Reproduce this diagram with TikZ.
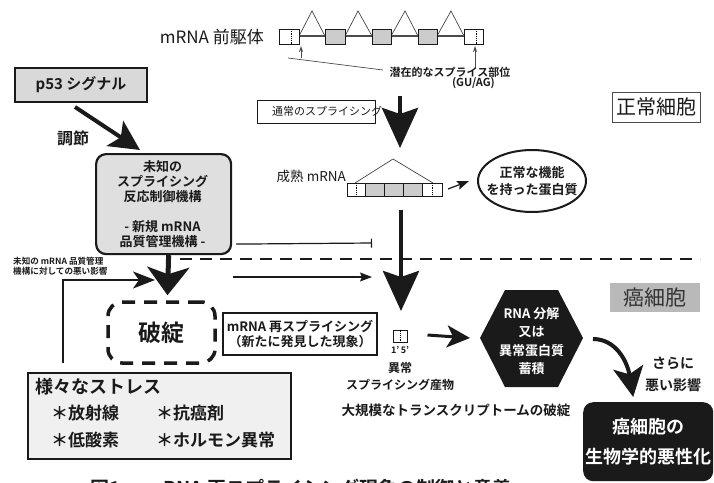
\documentclass[tikz,border=0pt]{standalone}
\usepackage{fontspec}
\setmainfont{Noto Sans CJK JP}[BoldFont={Noto Sans CJK JP Bold}]
\usetikzlibrary{arrows.meta,shapes.geometric}
\newcommand{\fsz}[2]{\fontsize{#1pt}{#2pt}\selectfont}
\definecolor{ink}{HTML}{1A1A1A}
\tikzset{
  bigarrow/.style={draw=ink, line width=4.5pt, -{Stealth[length=40pt,width=36pt,inset=6pt]}},
  medarrow/.style={draw=ink, line width=4pt, -{Stealth[length=30pt,width=30pt,inset=7pt]}},
  thinarrow/.style={draw=ink, line width=1.2pt, -{Stealth[length=12pt,width=9pt,inset=2pt]}},
  tinyarrow/.style={draw=gray!60!black, line width=0.8pt, -{Stealth[length=6pt,width=4pt]}},
  whitebox/.style={draw=ink, line width=1pt, fill=white},
  greybox/.style={draw=ink, line width=1pt, fill=gray!40},
  intron/.style={draw=gray!55!black, line width=0.7pt},
  lbl/.style={inner sep=0pt, text=ink},
}
\begin{document}
\begin{tikzpicture}[x=1pt,y=-1pt, font=\bfseries]
\useasboundingbox (0,0) rectangle (714,482);
\clip (0,0) rectangle (714,482);
\fill[white] (0,0) rectangle (714,482);

% ---------- pre-mRNA ----------
\node[lbl, anchor=east, font=\mdseries\fsz{17}{19}] (pre) at (264,37) {mRNA 前駆体};
\draw[draw=gray!60!black, line width=1.5pt] (299,36) -- (464,36);
\foreach \a/\b/\c in {299/312/325, 345/358/372, 391/405/418, 437/451/464}
  \draw[intron] (\a,36) -- (\b,11) -- (\c,36);
\draw[whitebox] (279,29) rectangle (299,44);
\draw[densely dotted, line width=0.8pt] (291,29) -- (291,44);
\draw[greybox] (325,29) rectangle (345,44);
\draw[greybox] (372,29) rectangle (391,44);
\draw[greybox] (418,29) rectangle (437,44);
\draw[whitebox] (464,29) rectangle (483,44);
\draw[densely dotted, line width=0.8pt] (476,29) -- (476,44);
\coordinate (siteL) at (301,46);
\coordinate (siteR) at (475,46);
\draw[tinyarrow] (301,58) -- (siteL);
\draw[tinyarrow] (475,68) -- (siteR);
\draw[draw=gray!60!black, line width=0.7pt] (288,58) -- (383,70);
\node[lbl, font=\bfseries\fsz{11}{13}] (site) at (450,72) {潜在的なスプライス部位};
\node[lbl, anchor=east, font=\bfseries\fsz{11}{13}] (guag) at (495,83) {(GU/AG)};

% ---------- normal splicing ----------
\draw[draw=ink, line width=0.8pt] (257,100) rectangle (375,123);
\node[lbl, anchor=west, font=\mdseries\fsz{11}{13}] (normsp) at (272,111.5) {通常のスプライシング};
\coordinate (arr1s) at (400,96);
\coordinate (arr1e) at (400,148);
\draw[bigarrow] (arr1s) -- (arr1e);

% ---------- mature mRNA ----------
\node[lbl, anchor=east, font=\mdseries\fsz{13.5}{15}] (mat) at (346,176) {成熟 mRNA};
\draw[intron] (355,183) -- (393,159) -- (433,183);
\draw[whitebox] (347,183) rectangle (365,196);
\draw[densely dotted, line width=0.8pt] (356,183) -- (356,196);
\draw[greybox] (365,183) rectangle (384,196);
\draw[greybox] (384,183) rectangle (403,196);
\draw[greybox] (403,183) rectangle (422,196);
\draw[whitebox] (422,183) rectangle (442,196);
\draw[densely dotted, line width=0.8pt] (432,183) -- (432,196);
\coordinate (stripE) at (448,189);
\node[draw=ink, ellipse, line width=2pt, minimum width=108pt, minimum height=62pt] (func) at (532,181) {};
\node[lbl, align=center, font=\bfseries\fsz{13}{17}] (functxt) at (func) {正常な機能\\を持った蛋白質};
\draw[thinarrow] (stripE) -- ([xshift=-8pt]func.west);

% ---------- cell labels ----------
\node[draw=gray!60!black, line width=0.8pt, minimum width=88pt, minimum height=30pt, inner sep=0pt, font=\mdseries\fsz{20}{22}, text=ink] (normal) at (656,107) {正常細胞};
\node[fill=gray!55, minimum width=90pt, minimum height=29pt, inner sep=0pt, font=\mdseries\fsz{21}{23}, text=black!80] (cancer) at (655,297.5) {癌細胞};

% ---------- dashed separator ----------
\coordinate (sepL) at (180,259);
\coordinate (sepR) at (700,259);
\draw[draw=ink, line width=2pt, dash pattern=on 12pt off 8pt] (sepL) -- (sepR);

% ---------- second big arrow ----------
\coordinate (arr2s) at (401,210);
\coordinate (arr2e) at (401,311);
\draw[bigarrow] (arr2s) -- (arr2e);

% ---------- p53 ----------
\node[draw=ink, line width=2pt, fill=gray!30, minimum width=132pt, minimum height=34pt, inner sep=0pt, font=\bfseries\fsz{15}{17}, text=ink] (p53) at (81,85) {p53 シグナル};
\node[lbl, font=\bfseries\fsz{16}{18}] (reg) at (73,138) {調節};

% ---------- control box ----------
\node[draw=ink, line width=2.2pt, rounded corners=10pt, fill=gray!25, minimum width=135pt, minimum height=100pt, anchor=north west] (ctrl) at (95,153) {};
\node[lbl, align=center, font=\bfseries\fsz{13}{15}] (ctrltxt) at (162.5,204) {未知の\\スプライシング\\反応制御機構\\[15pt]- 新規 mRNA\\品質管理機構 -};
\draw[medarrow] ([xshift=-6pt,yshift=-4pt]p53.south) -- ([xshift=45pt,yshift=3pt]ctrl.north west);

\coordinate (teeEnd) at (372,243);
\draw[draw=ink, line width=1.2pt, -{Bar[width=9pt]}] ([xshift=4pt,yshift=-40pt]ctrl.east) -- (teeEnd);
\coordinate (hArrS) at (233,277);
\coordinate (hArrE) at (372,277);
\draw[thinarrow] (hArrS) -- (hArrE);

\node[lbl, anchor=north west, align=left, font=\bfseries\fsz{8.6}{10}] (qctxt) at (13,257) {未知の mRNA 品質管理\\機構に対しての悪い影響};

% ---------- hatan ----------
\node[draw=ink, line width=3.5pt, dash pattern=on 13pt off 9pt, rounded corners=14pt, minimum width=107pt, minimum height=61pt, font=\bfseries\fsz{23}{25}, text=ink] (hatan) at (161.5,332.5) {破綻};
\draw[draw=ink, line width=5pt, -{Stealth[length=28pt,width=42pt,inset=7pt]}] ([xshift=5pt]ctrl.south) -- ([xshift=6pt,yshift=5pt]hatan.north);

% ---------- stress ----------
\node[draw=ink, line width=1.5pt, fill=gray!12, minimum width=263pt, minimum height=86pt, anchor=north west] (stress) at (27,372) {};
\node[lbl, anchor=west, font=\bfseries\fsz{18}{20}] (st0) at (35,387) {様々なストレス};
\node[lbl, anchor=west, font=\bfseries\fsz{17}{19}] (st1) at (51,413) {＊放射線};
\node[lbl, anchor=west, font=\bfseries\fsz{17}{19}] (st2) at (156,413) {＊抗癌剤};
\node[lbl, anchor=west, font=\bfseries\fsz{17}{19}] (st3) at (51,440) {＊低酸素};
\node[lbl, anchor=west, font=\bfseries\fsz{17}{19}] (st4) at (156,440) {＊ホルモン異常};
\coordinate (stEnd) at (155,280);
\draw[draw=ink, line width=2pt, -{Stealth[length=22pt,width=17pt,inset=6pt]}] ([xshift=36pt,yshift=9pt]stress.north west) |- (stEnd);

% ---------- re-splicing ----------
\node[draw=ink, line width=1.8pt, minimum width=154pt, minimum height=42pt, inner sep=0pt, align=center, font=\bfseries\fsz{13}{15}, text=ink] (resp) at (300,334) {mRNA 再スプライシング\\（新たに発見した現象）};

% ---------- aberrant product ----------
\node[draw=ink, line width=1pt, minimum width=14pt, minimum height=12pt, inner sep=0pt] (prod) at (400,336) {};
\draw[densely dotted, line width=0.8pt] (prod.north) -- (prod.south);
\node[lbl, font=\bfseries\fsz{9}{10}] (prod15) at (400,350) {1'\,5'};
\node[lbl, align=center, font=\bfseries\fsz{12}{17}] (prodtxt) at (400,376.5) {異常\\スプライシング産物};
\node[lbl, font=\bfseries\fsz{13.5}{15}] (trans) at (456,410) {大規模なトランスクリプトームの破綻};

% ---------- hexagon ----------
\coordinate (hexL) at (480,338);
\coordinate (hexR) at (583,338);
\fill[ink] (hexL) -- (505,290) -- (558,290) -- (hexR) -- (558,387) -- (505,387) -- cycle;
\node[lbl, align=center, text=white, font=\bfseries\fsz{13}{18.3}] (hex) at (531.5,341) {RNA 分解\\又は\\異常蛋白質\\蓄積};
\draw[draw=ink, line width=3pt, -{Stealth[length=23pt,width=22pt,inset=6pt]}] ([xshift=20pt,yshift=1pt]prod.east) -- ([xshift=-10pt]hexL);

% ---------- malignancy ----------
\node[fill=ink, rounded corners=10pt, minimum width=130pt, minimum height=79pt, anchor=north west] (bio) at (583,402) {};
\node[lbl, align=center, text=white, font=\bfseries\fsz{18}{30}] (biotxt) at (bio) {癌細胞の\\生物学的悪性化};
\coordinate (curveS) at (593,339);
\draw[medarrow] (curveS) .. controls (615,339) and (627,360) .. ([xshift=-15pt,yshift=5pt]bio.north);
\node[lbl, align=center, font=\bfseries\fsz{14}{22}] (worse) at (673,374) {さらに\\悪い影響};

% ---------- caption (cut off at the lower edge, as in the reference) ----------
\node[lbl, anchor=west, font=\bfseries\fsz{19}{21}] (cap) at (90,488) {図1\hspace{1.3em}mRNA 再スプライシング現象の制御と意義};
\end{tikzpicture}
\end{document}
